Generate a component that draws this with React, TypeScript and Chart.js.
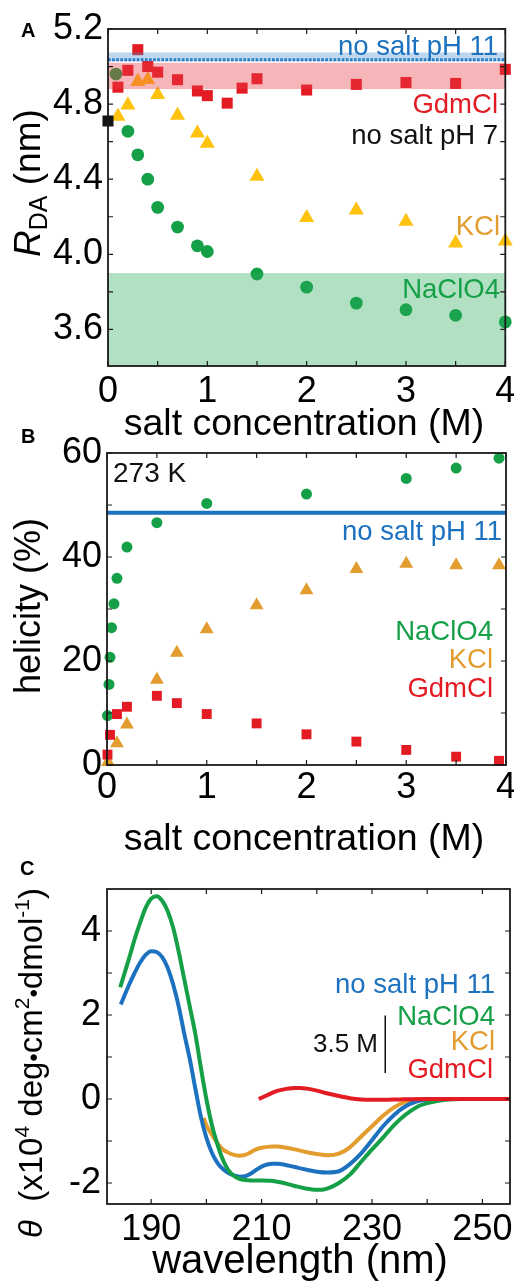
import React, { useEffect, useRef } from "react";
import { Chart, registerables } from "chart.js";
Chart.register(...registerables);

const FONT = "'Liberation Sans', Arial, Helvetica, sans-serif";
const BLUE = "#1d72c0";
const RED = "#e31b23";
const GREEN = "#15a047";
const YELLOW = "#ffc20f";
const ORANGE = "#e39c2e";

// ---------- Panel A : R_DA vs salt concentration ----------
const A_GDM_X = [0.1, 0.2, 0.3, 0.4, 0.5, 0.7, 0.9, 1.0, 1.2, 1.35, 1.5, 2.0, 2.5, 3.0, 3.5, 4.0];
const A_GDM_Y = [4.89, 4.98, 5.09, 5.0, 4.97, 4.93, 4.87, 4.845, 4.805, 4.885, 4.935, 4.875, 4.905, 4.915, 4.91, 4.985];
const A_NACLO4_X = [0.08, 0.2, 0.3, 0.4, 0.5, 0.7, 0.9, 1.0, 1.5, 2.0, 2.5, 3.0, 3.5, 4.0];
const A_NACLO4_Y = [4.96, 4.655, 4.53, 4.4, 4.25, 4.145, 4.045, 4.015, 3.895, 3.825, 3.74, 3.705, 3.675, 3.64];
const A_KCL_X = [0.1, 0.2, 0.3, 0.4, 0.5, 0.7, 0.9, 1.0, 1.5, 2.0, 2.5, 3.0, 3.5, 4.0];
const A_KCL_Y = [4.735, 4.795, 4.92, 4.93, 4.85, 4.74, 4.645, 4.59, 4.415, 4.195, 4.235, 4.175, 4.06, 4.07];
const A_PH7_X = [0];
const A_PH7_Y = [4.71];
const A_PH11_BAND = [5.028, 5.075];
const A_PH11_MEAN = 5.036;
const A_GDM_BAND = [4.88, 5.02];
const A_NACLO4_BAND = [3.0, 3.9];
const A_X_TICKS = [0, 1, 2, 3, 4];
const A_X_LABELS = ["0", "1", "2", "3", "4"];
const A_Y_TICKS = [3.6, 4.0, 4.4, 4.8, 5.2];
const A_Y_LABELS = ["3.6", "4.0", "4.4", "4.8", "5.2"];
const A_X_MINOR = [0, 0.5, 1, 1.5, 2, 2.5, 3, 3.5, 4];
const A_Y_MINOR = [3.6, 3.8, 4.0, 4.2, 4.4, 4.6, 4.8, 5.0, 5.2];

// ---------- Panel B : helicity vs salt concentration ----------
const B_NACLO4_X = [0.005, 0.02, 0.03, 0.045, 0.07, 0.1, 0.2, 0.5, 1, 2, 3, 3.5, 3.93];
const B_NACLO4_Y = [9.5, 15.5, 20.7, 26.4, 31.0, 35.9, 41.9, 46.6, 50.3, 52.1, 55.1, 57.1, 59.0];
const B_KCL_X = [0.01, 0.1, 0.2, 0.5, 0.7, 1, 1.5, 2, 2.5, 3, 3.5, 3.93];
const B_KCL_Y = [0.6, 4.2, 7.8, 16.4, 21.6, 26.1, 30.7, 33.6, 37.7, 38.7, 38.4, 38.4];
const B_GDM_X = [0.005, 0.03, 0.1, 0.2, 0.5, 0.7, 1, 1.5, 2, 2.5, 3, 3.5, 3.93];
const B_GDM_Y = [2.0, 5.8, 9.8, 11.2, 13.3, 11.9, 9.8, 8.0, 5.9, 4.5, 2.9, 1.6, 0.8];
const B_PH11_X = [0, 4];
const B_PH11_Y = [48.5, 48.5];
const B_X_TICKS = [0, 1, 2, 3, 4];
const B_X_LABELS = ["0", "1", "2", "3", "4"];
const B_Y_TICKS = [0, 20, 40, 60];
const B_Y_LABELS = ["0", "20", "40", "60"];
const B_X_MINOR = [0, 0.5, 1, 1.5, 2, 2.5, 3, 3.5, 4];
const B_Y_MINOR = [0, 10, 20, 30, 40, 50, 60];

// ---------- Panel C : CD spectra ----------
const C_PH11_WL = [184.5, 186, 187, 188, 189, 190, 191, 192, 193, 194, 195, 196, 197, 198, 199, 200, 201, 202, 203, 204, 205, 206, 207, 208, 209, 210, 211, 212, 213, 214, 216, 218, 220, 222, 224, 226, 228, 230, 232, 234, 236, 238, 240, 242, 245, 250, 255];
const C_PH11_TH = [2.25, 2.72, 3.0, 3.25, 3.43, 3.52, 3.5, 3.38, 3.12, 2.72, 2.2, 1.55, 0.95, 0.25, -0.42, -0.92, -1.28, -1.52, -1.67, -1.76, -1.82, -1.85, -1.84, -1.78, -1.69, -1.61, -1.56, -1.54, -1.54, -1.56, -1.62, -1.68, -1.73, -1.75, -1.72, -1.55, -1.3, -0.98, -0.65, -0.38, -0.18, -0.06, -0.01, 0, 0, 0, 0];
const C_NACLO4_WL = [184.4, 186, 187, 188, 189, 190, 191, 192, 193, 194, 195, 196, 197, 198, 199, 200, 201, 202, 203, 204, 205, 206, 207, 208, 210, 212, 214, 216, 218, 220, 221, 222, 224, 226, 228, 230, 232, 234, 236, 238, 240, 242, 244, 246, 250, 255];
const C_NACLO4_TH = [2.66, 3.35, 3.8, 4.2, 4.55, 4.77, 4.83, 4.72, 4.47, 4.07, 3.5, 2.85, 2.2, 1.55, 0.75, 0.0, -0.62, -1.08, -1.45, -1.7, -1.83, -1.9, -1.93, -1.94, -1.94, -1.95, -2.0, -2.07, -2.13, -2.16, -2.16, -2.13, -2.0, -1.8, -1.5, -1.2, -0.92, -0.62, -0.38, -0.2, -0.1, -0.04, -0.01, 0, 0, 0];
const C_KCL_WL = [199.5, 200, 201, 202, 203, 204, 205, 206, 207, 208, 209, 210, 211, 212, 213, 214, 216, 218, 220, 222, 224, 226, 228, 230, 232, 234, 236, 238, 240, 245, 250, 255];
const C_KCL_TH = [-0.45, -0.62, -0.85, -1.05, -1.2, -1.28, -1.33, -1.35, -1.33, -1.27, -1.2, -1.16, -1.14, -1.13, -1.13, -1.15, -1.2, -1.26, -1.31, -1.34, -1.3, -1.15, -0.9, -0.65, -0.4, -0.2, -0.07, -0.01, 0, 0, 0, 0];
const C_GDM_WL = [209.5, 210, 211, 212, 213, 214, 215, 216, 217, 218, 219, 220, 222, 224, 226, 228, 230, 232, 235, 240, 245, 250, 255];
const C_GDM_TH = [0.0, 0.03, 0.09, 0.15, 0.2, 0.23, 0.25, 0.26, 0.26, 0.25, 0.23, 0.2, 0.13, 0.07, 0.02, -0.01, -0.02, -0.02, -0.01, 0, 0, 0, 0];
const C_SCALEBAR_WL = 232.4;
const C_SCALEBAR_TH = [0.62, 1.99];
const C_X_TICKS = [190, 210, 230, 250];
const C_X_LABELS = ["190", "210", "230", "250"];
const C_Y_TICKS = [-2, 0, 2, 4];
const C_Y_LABELS = ["-2", "0", "2", "4"];
const C_X_MINOR = [190, 200, 210, 220, 230, 240, 250];
const C_Y_MINOR = [-2, -1, 0, 1, 2, 3, 4];

const pts = (xs: number[], ys: number[]) => xs.map((x, i) => ({ x, y: ys[i] }));

type Seg = { t: string; size?: number; style?: string; dy?: number; color?: string; weight?: string };

function fontOf(s: Seg, def: number) {
  return `${s.style || "normal"} ${s.weight || "normal"} ${s.size || def}px ${FONT}`;
}

function drawRich(ctx: CanvasRenderingContext2D, segs: Seg[], x: number, y: number, rotate: boolean, align: string, def: number) {
  ctx.save();
  ctx.translate(x, y);
  if (rotate) ctx.rotate(-Math.PI / 2);
  let total = 0;
  for (const s of segs) {
    ctx.font = fontOf(s, def);
    total += ctx.measureText(s.t).width;
  }
  let cx = align === "center" ? -total / 2 : align === "right" ? -total : 0;
  ctx.textAlign = "left";
  ctx.textBaseline = "alphabetic";
  for (const s of segs) {
    ctx.font = fontOf(s, def);
    ctx.fillStyle = s.color || "#000";
    ctx.fillText(s.t, cx, s.dy || 0);
    cx += ctx.measureText(s.t).width;
  }
  ctx.restore();
}

const panelPlugin = {
  id: "panel",
  afterDatasetsDraw(chart: any, _a: any, o: any) {
    const { ctx, chartArea: ca, scales } = chart;
    const sy = scales.y;
    const sx = scales.x;
    ctx.save();
    ctx.beginPath();
    ctx.rect(ca.left, ca.top, ca.right - ca.left, ca.bottom - ca.top);
    ctx.clip();
    for (const b of o.bands || []) {
      const y1 = sy.getPixelForValue(b.range[1]);
      const y2 = sy.getPixelForValue(b.range[0]);
      ctx.fillStyle = b.color;
      ctx.fillRect(ca.left, y1, ca.right - ca.left, y2 - y1);
    }
    if (o.dotted) {
      const py = sy.getPixelForValue(o.dotted.value);
      ctx.strokeStyle = o.dotted.color;
      ctx.lineWidth = 3;
      ctx.setLineDash([2.7, 1.4]);
      ctx.beginPath();
      ctx.moveTo(ca.left, py);
      ctx.lineTo(ca.right, py);
      ctx.stroke();
      ctx.setLineDash([]);
    }
    ctx.restore();
    if (o.scalebar) {
      const px = sx.getPixelForValue(o.scalebar.x);
      ctx.save();
      ctx.strokeStyle = "#111";
      ctx.lineWidth = 1.5;
      ctx.beginPath();
      ctx.moveTo(px, sy.getPixelForValue(o.scalebar.range[0]));
      ctx.lineTo(px, sy.getPixelForValue(o.scalebar.range[1]));
      ctx.stroke();
      ctx.restore();
    }
  },
  afterDraw(chart: any, _a: any, o: any) {
    const { ctx, chartArea: ca, scales } = chart;
    const sx = scales.x;
    const sy = scales.y;
    ctx.save();
    ctx.strokeStyle = "#1a1a1a";
    ctx.lineWidth = 1.2;
    ctx.beginPath();
    const L = 5;
    for (const v of o.xMinor || []) {
      const px = sx.getPixelForValue(v);
      ctx.moveTo(px, ca.bottom);
      ctx.lineTo(px, ca.bottom - L);
      ctx.moveTo(px, ca.top);
      ctx.lineTo(px, ca.top + L);
    }
    for (const v of o.yMinor || []) {
      const py = sy.getPixelForValue(v);
      ctx.moveTo(ca.left, py);
      ctx.lineTo(ca.left + L, py);
      ctx.moveTo(ca.right, py);
      ctx.lineTo(ca.right - L, py);
    }
    ctx.stroke();
    ctx.lineWidth = 1.8;
    ctx.strokeRect(ca.left, ca.top, ca.right - ca.left, ca.bottom - ca.top);
    ctx.restore();
    for (const t of o.texts || []) {
      drawRich(ctx, [{ t: t.text, color: t.color, size: t.size, weight: t.weight }], t.x, t.y, false, t.align || "right", 27.5);
    }
    if (o.xTitle) drawRich(ctx, [{ t: o.xTitle.text }], o.xTitle.x, o.xTitle.y, false, "center", o.xTitle.size);
    if (o.yTitle) drawRich(ctx, o.yTitle.segs, o.yTitle.x, o.yTitle.y, true, o.yTitle.align, o.yTitle.size);
    if (o.letter) drawRich(ctx, [{ t: o.letter.text, weight: "bold" }], o.letter.x, o.letter.y, false, "left", 20);
  },
};

function axis(min: number, max: number, ticks: number[], labels: string[], isX: boolean, size: number, pad: number) {
  return {
    type: "linear",
    min,
    max,
    grid: { display: false, drawTicks: false },
    border: { display: false },
    afterBuildTicks: (s: any) => {
      s.ticks = ticks.map((v) => ({ value: v }));
    },
    afterFit: (s: any) => {
      if (isX) s.height = size;
      else s.width = size;
      s.paddingLeft = 0;
      s.paddingRight = 0;
      s.paddingTop = 0;
      s.paddingBottom = 0;
    },
    ticks: {
      autoSkip: false,
      maxRotation: 0,
      minRotation: 0,
      padding: pad,
      color: "#000",
      font: { family: FONT, size: 36 },
      callback: (_v: any, i: number) => labels[i],
    },
  };
}

function scatterSet(label: string, xs: number[], ys: number[], style: string, radius: number, color: string, order: number) {
  return {
    label,
    data: pts(xs, ys),
    pointStyle: style,
    pointRadius: radius,
    pointHoverRadius: radius,
    pointBackgroundColor: color,
    pointBorderColor: color,
    pointBorderWidth: 0,
    backgroundColor: color,
    borderColor: color,
    showLine: false,
    clip: false,
    order,
  };
}

function configA(): any {
  return {
    type: "scatter",
    data: {
      datasets: [
        scatterSet("no salt pH 7", A_PH7_X, A_PH7_Y, "rect", 7.8, "#151515", 0),
        scatterSet("GdmCl", A_GDM_X, A_GDM_Y, "rect", 7.8, RED, 1),
        scatterSet("KCl", A_KCL_X, A_KCL_Y, "triangle", 8.7, YELLOW, 2),
        scatterSet("NaClO4", A_NACLO4_X, A_NACLO4_Y, "circle", 6.4, GREEN, 3),
      ],
    },
    options: {
      animation: false,
      responsive: false,
      devicePixelRatio: 1,
      layout: { padding: { left: 0, right: 3, top: 29, bottom: 0 } },
      scales: {
        x: axis(0, 4, A_X_TICKS, A_X_LABELS, true, 84, 4),
        y: axis(3.405, 5.2, A_Y_TICKS, A_Y_LABELS, false, 108, 5),
      },
      plugins: {
        legend: { display: false },
        tooltip: { enabled: false },
        panel: {
          bands: [
            { range: A_PH11_BAND, color: "rgba(70,140,210,0.35)" },
            { range: A_GDM_BAND, color: "rgba(232,60,70,0.38)" },
            { range: A_NACLO4_BAND, color: "rgba(40,170,90,0.36)" },
          ],
          dotted: { value: A_PH11_MEAN, color: "#2a7fc7" },
          xMinor: A_X_MINOR,
          yMinor: A_Y_MINOR,
          texts: [
            { text: "no salt pH 11", x: 498, y: 55, color: BLUE },
            { text: "GdmCl", x: 498, y: 113, color: RED },
            { text: "no salt pH 7", x: 498, y: 144, color: "#111" },
            { text: "KCl", x: 500, y: 235, color: ORANGE },
            { text: "NaClO4", x: 500, y: 298, color: GREEN },
          ],
          xTitle: { text: "salt concentration (M)", x: 304, y: 435, size: 37.5 },
          yTitle: {
            segs: [
              { t: "R", style: "italic" },
              { t: "DA", size: 25, dy: 7 },
              { t: " (nm)" },
            ],
            x: 40,
            y: 257,
            align: "left",
            size: 37,
          },
          letter: { text: "A", x: 21, y: 37 },
        },
      },
    },
    plugins: [panelPlugin],
  };
}

function configB(): any {
  return {
    type: "scatter",
    data: {
      datasets: [
        scatterSet("GdmCl", B_GDM_X, B_GDM_Y, "rect", 7, RED, 1),
        scatterSet("KCl", B_KCL_X, B_KCL_Y, "triangle", 8, ORANGE, 2),
        scatterSet("NaClO4", B_NACLO4_X, B_NACLO4_Y, "circle", 5.5, GREEN, 3),
        {
          label: "no salt pH 11",
          data: pts(B_PH11_X, B_PH11_Y),
          showLine: true,
          pointRadius: 0,
          borderColor: BLUE,
          borderWidth: 4,
          order: 4,
        },
      ],
    },
    options: {
      animation: false,
      responsive: false,
      devicePixelRatio: 1,
      layout: { padding: { left: 0, right: 6, top: 28, bottom: 0 } },
      scales: {
        x: axis(0, 4, B_X_TICKS, B_X_LABELS, true, 100, 1),
        y: axis(0, 60, B_Y_TICKS, B_Y_LABELS, false, 107, 5),
      },
      plugins: {
        legend: { display: false },
        tooltip: { enabled: false },
        panel: {
          xMinor: B_X_MINOR,
          yMinor: B_Y_MINOR,
          texts: [
            { text: "273 K", x: 113, y: 57, color: "#111", align: "left", size: 28 },
            { text: "no salt pH 11", x: 502, y: 115, color: BLUE },
            { text: "NaClO4", x: 493, y: 215, color: GREEN },
            { text: "KCl", x: 493, y: 243, color: ORANGE },
            { text: "GdmCl", x: 493, y: 272, color: RED },
          ],
          xTitle: { text: "salt concentration (M)", x: 304, y: 425, size: 37.5 },
          yTitle: { segs: [{ t: "helicity (%)" }], x: 40, y: 181, align: "center", size: 36 },
          letter: { text: "B", x: 21, y: 18 },
        },
      },
    },
    plugins: [panelPlugin],
  };
}

function lineSet(label: string, xs: number[], ys: number[], color: string, order: number) {
  return {
    label,
    data: pts(xs, ys),
    showLine: true,
    pointRadius: 0,
    borderColor: color,
    backgroundColor: color,
    borderWidth: 4,
    cubicInterpolationMode: "monotone",
    order,
  };
}

function configC(): any {
  return {
    type: "scatter",
    data: {
      datasets: [
        lineSet("GdmCl", C_GDM_WL, C_GDM_TH, RED, 0),
        lineSet("NaClO4", C_NACLO4_WL, C_NACLO4_TH, GREEN, 1),
        lineSet("no salt pH 11", C_PH11_WL, C_PH11_TH, BLUE, 2),
        lineSet("KCl", C_KCL_WL, C_KCL_TH, ORANGE, 3),
      ],
    },
    options: {
      animation: false,
      responsive: false,
      devicePixelRatio: 1,
      layout: { padding: { left: 0, right: 4, top: 39, bottom: 0 } },
      scales: {
        x: axis(182, 255, C_X_TICKS, C_X_LABELS, true, 77, 4),
        y: axis(-2.5, 5, C_Y_TICKS, C_Y_LABELS, false, 107, 6),
      },
      plugins: {
        legend: { display: false },
        tooltip: { enabled: false },
        panel: {
          xMinor: C_X_MINOR,
          yMinor: C_Y_MINOR,
          scalebar: { x: C_SCALEBAR_WL, range: C_SCALEBAR_TH },
          texts: [
            { text: "no salt pH 11", x: 495, y: 143, color: BLUE },
            { text: "NaClO4", x: 495, y: 175, color: GREEN },
            { text: "KCl", x: 495, y: 200, color: ORANGE },
            { text: "GdmCl", x: 493, y: 228, color: RED },
            { text: "3.5 M", x: 378, y: 202, color: "#111", size: 26 },
          ],
          xTitle: { text: "wavelength (nm)", x: 300, y: 423, size: 40 },
          yTitle: {
            segs: [
              { t: "θ", style: "italic" },
              { t: "  (x10" },
              { t: "4", size: 21, dy: -13 },
              { t: " deg" },
              { t: "•", size: 24 },
              { t: "cm" },
              { t: "2", size: 21, dy: -13 },
              { t: "•", size: 24 },
              { t: "dmol" },
              { t: "-1", size: 21, dy: -13 },
              { t: ")" },
            ],
            x: 42,
            y: 388,
            align: "left",
            size: 33,
          },
          letter: { text: "C", x: 20, y: 25 },
        },
      },
    },
    plugins: [panelPlugin],
  };
}

function Panel({ top, height, make }: { top: number; height: number; make: () => any }) {
  const ref = useRef<HTMLCanvasElement | null>(null);
  useEffect(() => {
    if (!ref.current) return;
    const chart = new Chart(ref.current, make());
    return () => chart.destroy();
  }, []);
  return (
    <canvas
      ref={ref}
      width={514}
      height={height}
      style={{ position: "absolute", left: 0, top, width: 514, height }}
    />
  );
}

export default function App() {
  return (
    <div style={{ position: "absolute", left: 0, top: 0, width: 514, height: 1281, background: "#fff", overflow: "hidden" }}>
      <Panel top={0} height={450} make={configA} />
      <Panel top={425} height={440} make={configB} />
      <Panel top={850} height={431} make={configC} />
    </div>
  );
}
